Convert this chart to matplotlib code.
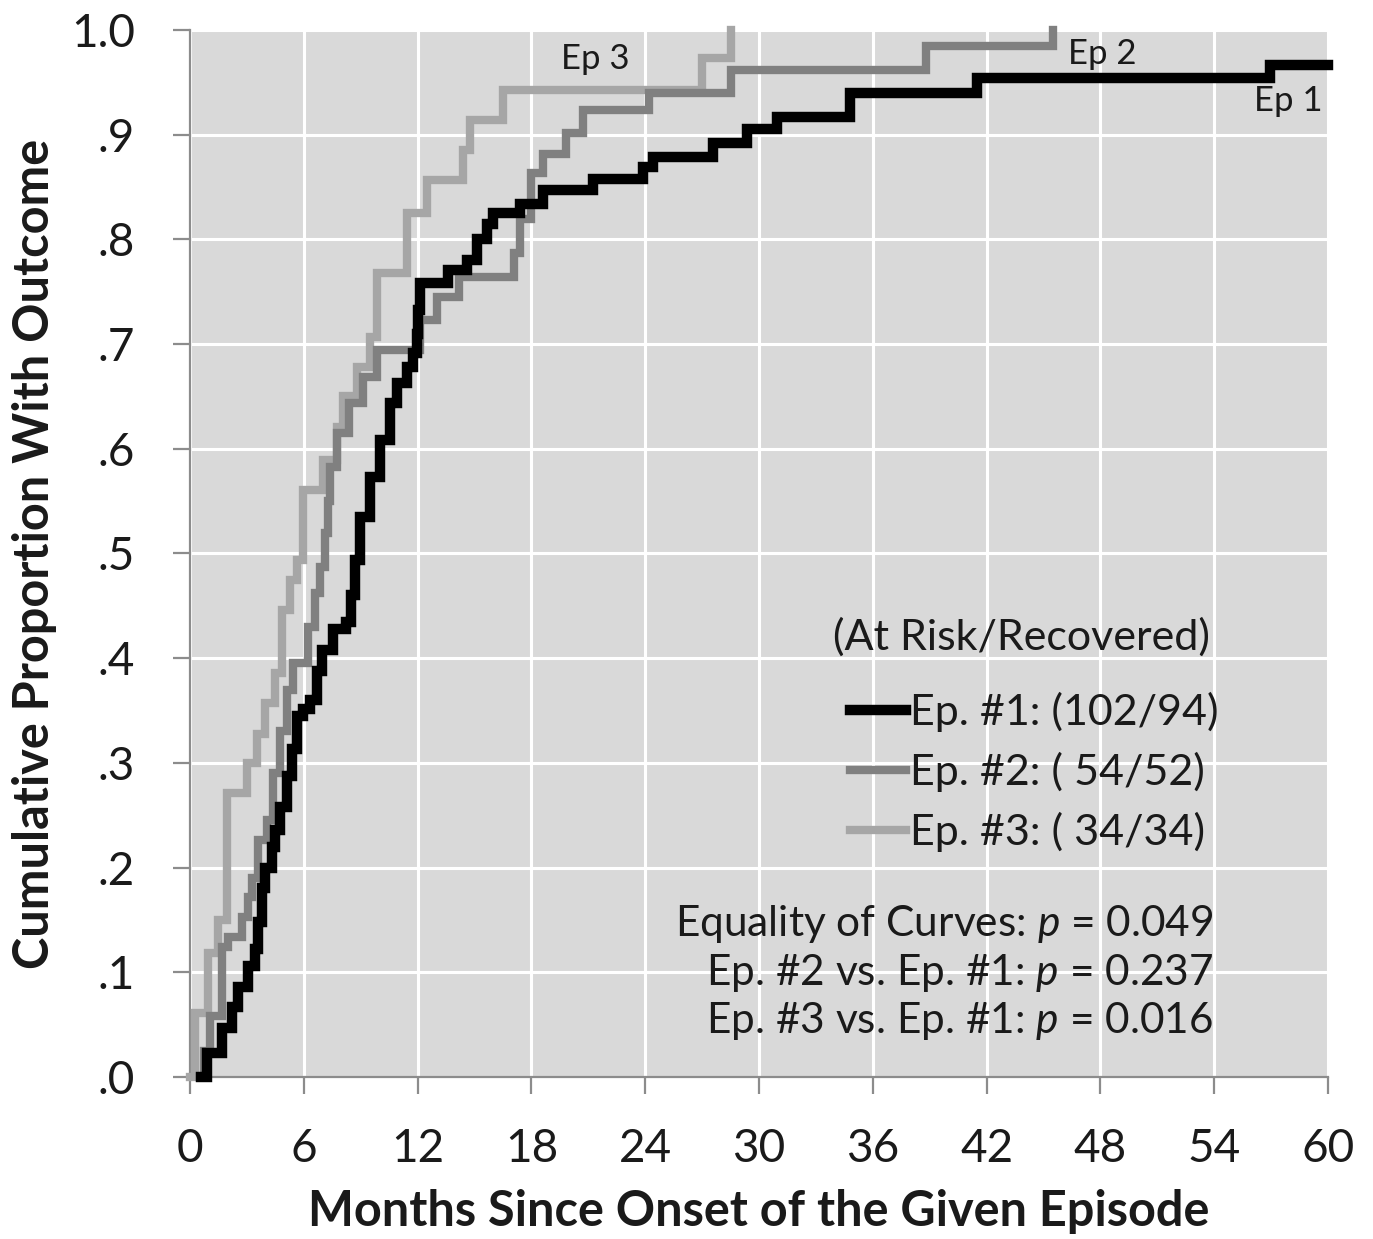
import matplotlib
matplotlib.use("Agg")
import matplotlib.pyplot as plt
from matplotlib.ticker import FixedLocator

plt.rcParams['font.family'] = ['Lato', 'DejaVu Sans']
plt.rcParams['mathtext.fontset'] = 'custom'
plt.rcParams['mathtext.it'] = 'Lato:italic'
plt.rcParams['mathtext.rm'] = 'Lato'

# ---- data (months since onset, cumulative proportion) ----
ep1_t = [0.6, 0.88, 1.67, 2.2, 2.55, 3.07, 3.43, 3.6, 3.78, 3.95, 4.3, 4.48, 4.75,
         5.1, 5.36, 5.62, 5.97, 6.33, 6.68, 6.94, 7.56, 8.2, 8.5, 8.7, 8.96, 9.49,
         10.02, 10.54, 10.9, 11.43, 11.77, 11.95, 12.02, 12.13, 13.6, 14.59, 15.12,
         15.64, 15.99, 17.4, 18.61, 21.25, 23.88, 24.41, 27.57, 29.37, 30.95, 34.8,
         41.48, 56.94, 60.0]
ep1_p = [0.0, 0.023, 0.047, 0.067, 0.086, 0.106, 0.122, 0.148, 0.18, 0.2, 0.22, 0.236, 0.258,
         0.287, 0.313, 0.345, 0.351, 0.36, 0.388, 0.408, 0.428, 0.435, 0.46, 0.494, 0.535, 0.573,
         0.608, 0.644, 0.663, 0.678, 0.691, 0.71, 0.733, 0.758, 0.771, 0.78, 0.80,
         0.815, 0.825, 0.834, 0.847, 0.858, 0.869, 0.879, 0.892, 0.905, 0.917, 0.9395,
         0.954, 0.9666, 0.9666]

ep2_t = [0.5, 0.75, 1.05, 1.67, 2.0, 2.72, 3.07, 3.25, 3.6, 4.04, 4.39, 4.75, 5.1, 5.45,
         6.24, 6.59, 6.85, 7.1, 7.25, 7.38, 7.75, 8.4, 9.1, 9.84, 12.1, 13.0, 14.2, 17.1,
         17.4, 18.0, 18.6, 19.85, 20.7, 24.2, 28.5, 38.8, 45.5]
ep2_p = [0.0, 0.025, 0.058, 0.124, 0.134, 0.153, 0.172, 0.19, 0.226, 0.245, 0.29, 0.33, 0.37, 0.395,
         0.43, 0.462, 0.487, 0.52, 0.55, 0.583, 0.615, 0.644, 0.669, 0.694, 0.723, 0.745, 0.764, 0.787,
         0.819, 0.863, 0.882, 0.902, 0.924, 0.94, 0.962, 0.985, 1.0]

ep3_t = [0.0, 0.26, 0.97, 1.49, 1.93, 2.99, 3.51, 3.95, 4.48, 4.83, 5.27, 5.62, 5.97, 7.03,
         7.73, 8.08, 8.79, 9.49, 9.84, 11.42, 12.48, 14.4, 14.76, 16.5, 27.0, 28.5]
ep3_p = [0.0, 0.061, 0.118, 0.15, 0.271, 0.30, 0.328, 0.357, 0.386, 0.446, 0.475, 0.494, 0.561, 0.589,
         0.621, 0.650, 0.678, 0.707, 0.768, 0.825, 0.857, 0.885, 0.914, 0.943, 0.973, 1.0]

episodes = ["Ep. #1", "Ep. #2", "Ep. #3"]
at_risk = [102, 54, 34]
recovered = [94, 52, 34]
legend_title = "(At Risk/Recovered)"
curve_tags = ["Ep 1", "Ep 2", "Ep 3"]
stat_labels = ["Equality of Curves", "Ep. #2 vs. Ep. #1", "Ep. #3 vs. Ep. #1"]
p_values = [0.049, 0.237, 0.016]

x_ticks = [0, 6, 12, 18, 24, 30, 36, 42, 48, 54, 60]
y_ticks = [0.0, 0.1, 0.2, 0.3, 0.4, 0.5, 0.6, 0.7, 0.8, 0.9, 1.0]
y_tick_labels = [".0", ".1", ".2", ".3", ".4", ".5", ".6", ".7", ".8", ".9", "1.0"]

# ---- figure ----
fig = plt.figure(figsize=(13.73, 12.39), dpi=100)
ax = fig.add_axes([0.1384, 0.1308, 0.9672 - 0.1384, 0.9758 - 0.1308])
ax.set_facecolor('#d9d9d9')

ax.set_xlim(0, 60)
ax.set_ylim(0, 1.0)
ax.xaxis.set_major_locator(FixedLocator(x_ticks))
ax.yaxis.set_major_locator(FixedLocator(y_ticks))
ax.set_yticklabels(y_tick_labels)
ax.set_xticklabels([str(v) for v in x_ticks])
ax.grid(True, color='white', linewidth=2.2)
ax.set_axisbelow(True)

for s in ['top', 'right']:
    ax.spines[s].set_visible(False)
for s in ['left', 'bottom']:
    ax.spines[s].set_color('#8c8c8c')
    ax.spines[s].set_linewidth(1.6)
ax.tick_params(axis='both', direction='out', length=12.5, width=1.6, color='#8c8c8c',
               labelsize=33, labelcolor='#1a1a1a')
ax.tick_params(axis='y', pad=27)
ax.tick_params(axis='x', pad=24)

colors = ['#000000', '#808080', '#a6a6a6']
widths = [7.5, 6.0, 6.0]
labels = [f"{e}: ({r}/{c})" if r >= 100 else f"{e}: ( {r}/{c})"
          for e, r, c in zip(episodes, at_risk, recovered)]

l3, = ax.plot(ep3_t, ep3_p, drawstyle='steps-post', color=colors[2], lw=widths[2],
              solid_joinstyle='miter', clip_on=False, zorder=3)
l2, = ax.plot(ep2_t, ep2_p, drawstyle='steps-post', color=colors[1], lw=widths[1],
              solid_joinstyle='miter', clip_on=False, zorder=4)
l1, = ax.plot(ep1_t, ep1_p, drawstyle='steps-post', color=colors[0], lw=widths[0],
              solid_joinstyle='miter', clip_on=False, zorder=5)

leg = ax.legend([l1, l2, l3], labels, loc='center',
                bbox_to_anchor=(0.742, 0.2913), frameon=False, fontsize=31,
                handlelength=1.3, handletextpad=0.08,
                labelspacing=0.46, borderpad=0.3)
for t in leg.get_texts():
    t.set_color('#1a1a1a')

ax.text(0.731, 0.4203, legend_title, transform=ax.transAxes, ha='center', va='center',
        fontsize=31, color='#1a1a1a', zorder=6)

# stats text
stat_y = [0.146, 0.099, 0.053]
for lab, pv, yy in zip(stat_labels, p_values, stat_y):
    ax.text(0.899, yy, f"{lab}: $p$ = {pv:.3f}", transform=ax.transAxes, ha='right',
            va='center', fontsize=30.5, color='#1a1a1a', zorder=6)

# curve tags
tag_pos = [(57.9, 0.932), (48.1, 0.977), (21.35, 0.972)]
for tag, (tx, ty) in zip(curve_tags, tag_pos):
    ax.text(tx, ty, tag, ha='center', va='center', fontsize=25, color='#1a1a1a', zorder=6)

ax.set_xlabel("Months Since Onset of the Given Episode", fontsize=35, fontweight='bold',
              color='#1a1a1a', labelpad=14)
ax.set_ylabel("Cumulative Proportion With Outcome", fontsize=35, fontweight='bold',
              color='#1a1a1a', labelpad=10)

fig.savefig("out.png", dpi=100)
